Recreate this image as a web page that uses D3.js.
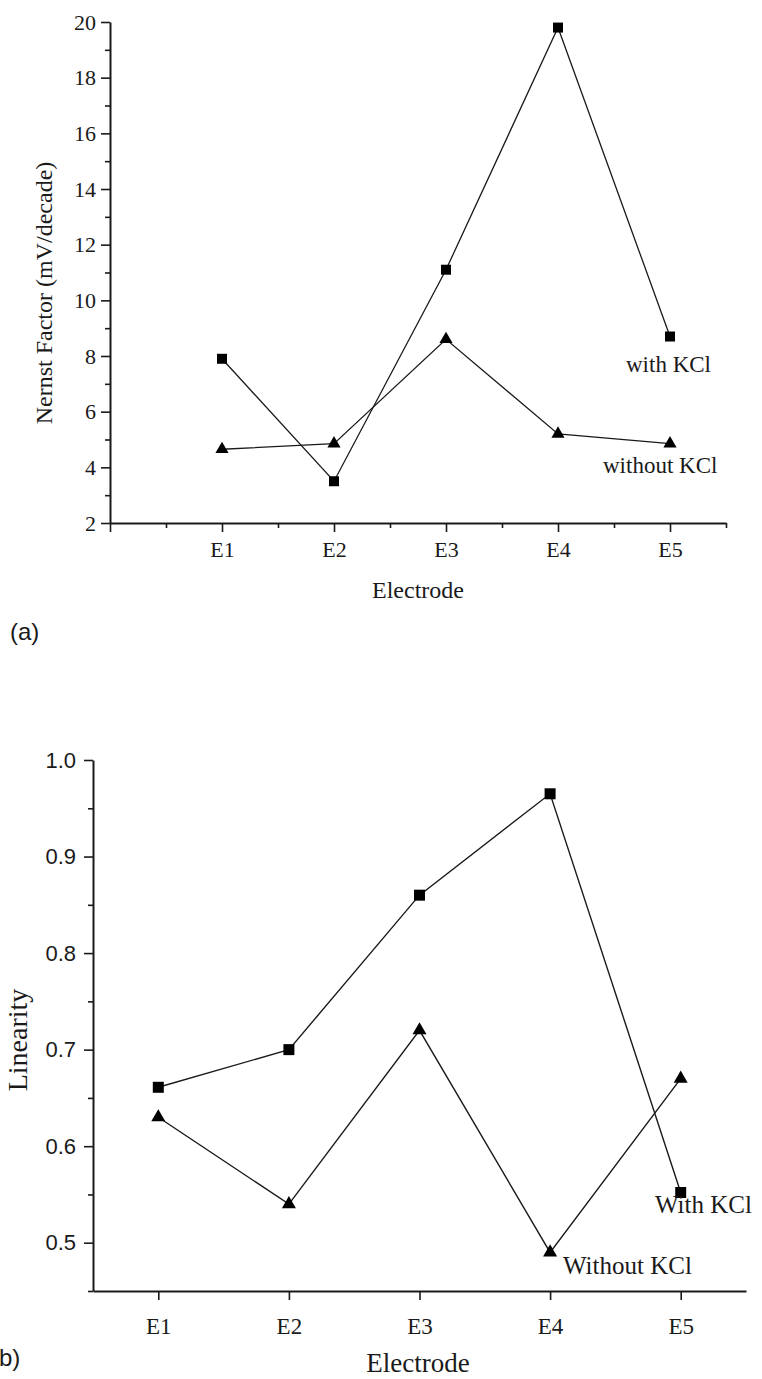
<!DOCTYPE html>
<html><head><meta charset="utf-8">
<script src="https://cdn.jsdelivr.net/npm/d3@7"></script>
<style>body{margin:0;background:#fff} svg{display:block}</style>
</head><body>
<svg id="c" width="762" height="1379"></svg>
<script>
const categories = ["E1", "E2", "E3", "E4", "E5"];
const nernstWithKCl = [7.9, 3.5, 11.1, 19.8, 8.7];
const nernstWithoutKCl = [4.65, 4.85, 8.6, 5.2, 4.85];
const linearityWithKCl = [0.661, 0.70, 0.86, 0.965, 0.552];
const linearityWithoutKCl = [0.63, 0.54, 0.72, 0.49, 0.67];
const nernstTicks = [2, 4, 6, 8, 10, 12, 14, 16, 18, 20];
const nernstMinor = [3, 5, 7, 9, 11, 13, 15, 17, 19];
const linearityTicks = [0.5, 0.6, 0.7, 0.8, 0.9, 1.0];
const linearityMinor = [0.45, 0.55, 0.65, 0.75, 0.85, 0.95];

const svg = d3.select("#c");
const SERIF = "'Liberation Serif','Times New Roman',serif";
const SANS = "'Liberation Sans',Arial,sans-serif";
const INK = "#1a1a1a";

function panel(cfg) {
  const g = svg.append("g");
  const x = d3.scaleLinear().domain(cfg.xDomain).range(cfg.xRange);
  const y = d3.scaleLinear().domain(cfg.yDomain).range(cfg.yRange);
  const y0 = cfg.yRange[0], x0 = cfg.xRange[0];
  const idx = categories.map((c, i) => i + 1);
  const halves = d3.range(cfg.xDomain[0] + 0.5, cfg.xDomain[1] + 0.01, 1).filter(v => !idx.includes(v));

  g.append("g").attr("transform", `translate(0,${y0})`)
    .call(d3.axisBottom(x).tickValues(halves).tickSize(5).tickSizeOuter(0).tickFormat(""))
    .call(a => a.select(".domain").remove());
  const xa = g.append("g").attr("transform", `translate(0,${y0})`)
    .call(d3.axisBottom(x).tickValues(cfg.xMajor).tickSize(9).tickSizeOuter(0)
      .tickFormat(v => v >= 1 ? categories[v - 1] : ""));
  xa.selectAll("text").attr("dy", null).attr("y", cfg.xLabelY)
    .attr("font-family", SERIF).attr("font-size", cfg.xFont).attr("fill", INK);
  g.append("g").attr("transform", `translate(${x0},0)`)
    .call(d3.axisLeft(y).tickValues(cfg.yMinor).tickSize(5).tickSizeOuter(0).tickFormat(""))
    .call(a => a.select(".domain").remove());
  const ya = g.append("g").attr("transform", `translate(${x0},0)`)
    .call(d3.axisLeft(y).tickValues(cfg.yTicks).tickSize(9).tickSizeOuter(0)
      .tickPadding(cfg.yPad).tickFormat(cfg.yFormat));
  ya.selectAll("text").attr("font-family", cfg.yFontFamily).attr("font-size", cfg.yFont).attr("fill", INK);
  g.selectAll(".domain").attr("stroke", INK).attr("stroke-width", 2);
  g.selectAll(".tick line").attr("stroke", INK).attr("stroke-width", 1.6);

  const line = d3.line().x((d, i) => x(i + 1)).y(d => y(d));
  [cfg.s1, cfg.s2].forEach(s => {
    g.append("path").datum(s).attr("d", line).attr("fill", "none")
      .attr("stroke", INK).attr("stroke-width", cfg.lw);
  });
  g.selectAll(".sq").data(cfg.s1).join("path").attr("class", "sq")
    .attr("transform", (d, i) => `translate(${x(i + 1)},${y(d)})`)
    .attr("d", d3.symbol(d3.symbolSquare, cfg.sqSize)).attr("fill", "#000");
  g.selectAll(".tr").data(cfg.s2).join("path").attr("class", "tr")
    .attr("transform", (d, i) => `translate(${x(i + 1)},${y(d)})`)
    .attr("d", d3.symbol(d3.symbolTriangle, cfg.trSize)).attr("fill", "#000");

  g.append("text").attr("x", cfg.xTitle[0]).attr("y", cfg.xTitle[1]).attr("text-anchor", "middle")
    .attr("font-family", SERIF).attr("font-size", cfg.titleFont).attr("fill", INK).text("Electrode");
  g.append("text").attr("transform", `translate(${cfg.yTitle[0]},${cfg.yTitle[1]}) rotate(-90)`)
    .attr("text-anchor", "middle").attr("font-family", SERIF).attr("font-size", cfg.yTitleFont)
    .attr("fill", INK).text(cfg.yTitleText);
  cfg.labels.forEach(l => {
    g.append("text").attr("x", l[1]).attr("y", l[2]).attr("font-family", SERIF)
      .attr("font-size", cfg.labelFont).attr("fill", INK).text(l[0]);
  });
  g.append("text").attr("x", cfg.panelLabel[1]).attr("y", cfg.panelLabel[2])
    .attr("font-family", SANS).attr("font-size", 24).attr("fill", INK).text(cfg.panelLabel[0]);
}

panel({
  xDomain: [0, 5.5], xRange: [110, 726], yDomain: [2, 20], yRange: [523, 22],
  xMajor: [0, 1, 2, 3, 4, 5], yTicks: nernstTicks, yMinor: nernstMinor,
  yFormat: d3.format("d"), yFontFamily: SERIF, yFont: 22, yPad: 5,
  xLabelY: 34, xFont: 22, titleFont: 24, yTitleFont: 24, labelFont: 23,
  s1: nernstWithKCl, s2: nernstWithoutKCl, lw: 1.3, sqSize: 100, trSize: 75,
  xTitle: [418, 598], yTitle: [52, 293], yTitleText: "Nernst Factor (mV/decade)",
  labels: [["with KCl", 626, 372], ["without KCl", 603, 473]],
  panelLabel: ["(a)", 10, 640]
});

panel({
  xDomain: [0.5, 5.5], xRange: [93, 746], yDomain: [0.45, 1.0], yRange: [1291, 760],
  xMajor: [1, 2, 3, 4, 5], yTicks: linearityTicks, yMinor: linearityMinor,
  yFormat: d3.format(".1f"), yFontFamily: SANS, yFont: 22, yPad: 8,
  xLabelY: 43, xFont: 23, titleFont: 27, yTitleFont: 28, labelFont: 25,
  s1: linearityWithKCl, s2: linearityWithoutKCl, lw: 1.4, sqSize: 121, trSize: 85,
  xTitle: [418, 1372], yTitle: [27, 1040], yTitleText: "Linearity",
  labels: [["With KCl", 655, 1213], ["Without KCl", 563, 1274]],
  panelLabel: ["(b)", -9, 1366]
});
</script>
</body></html>
